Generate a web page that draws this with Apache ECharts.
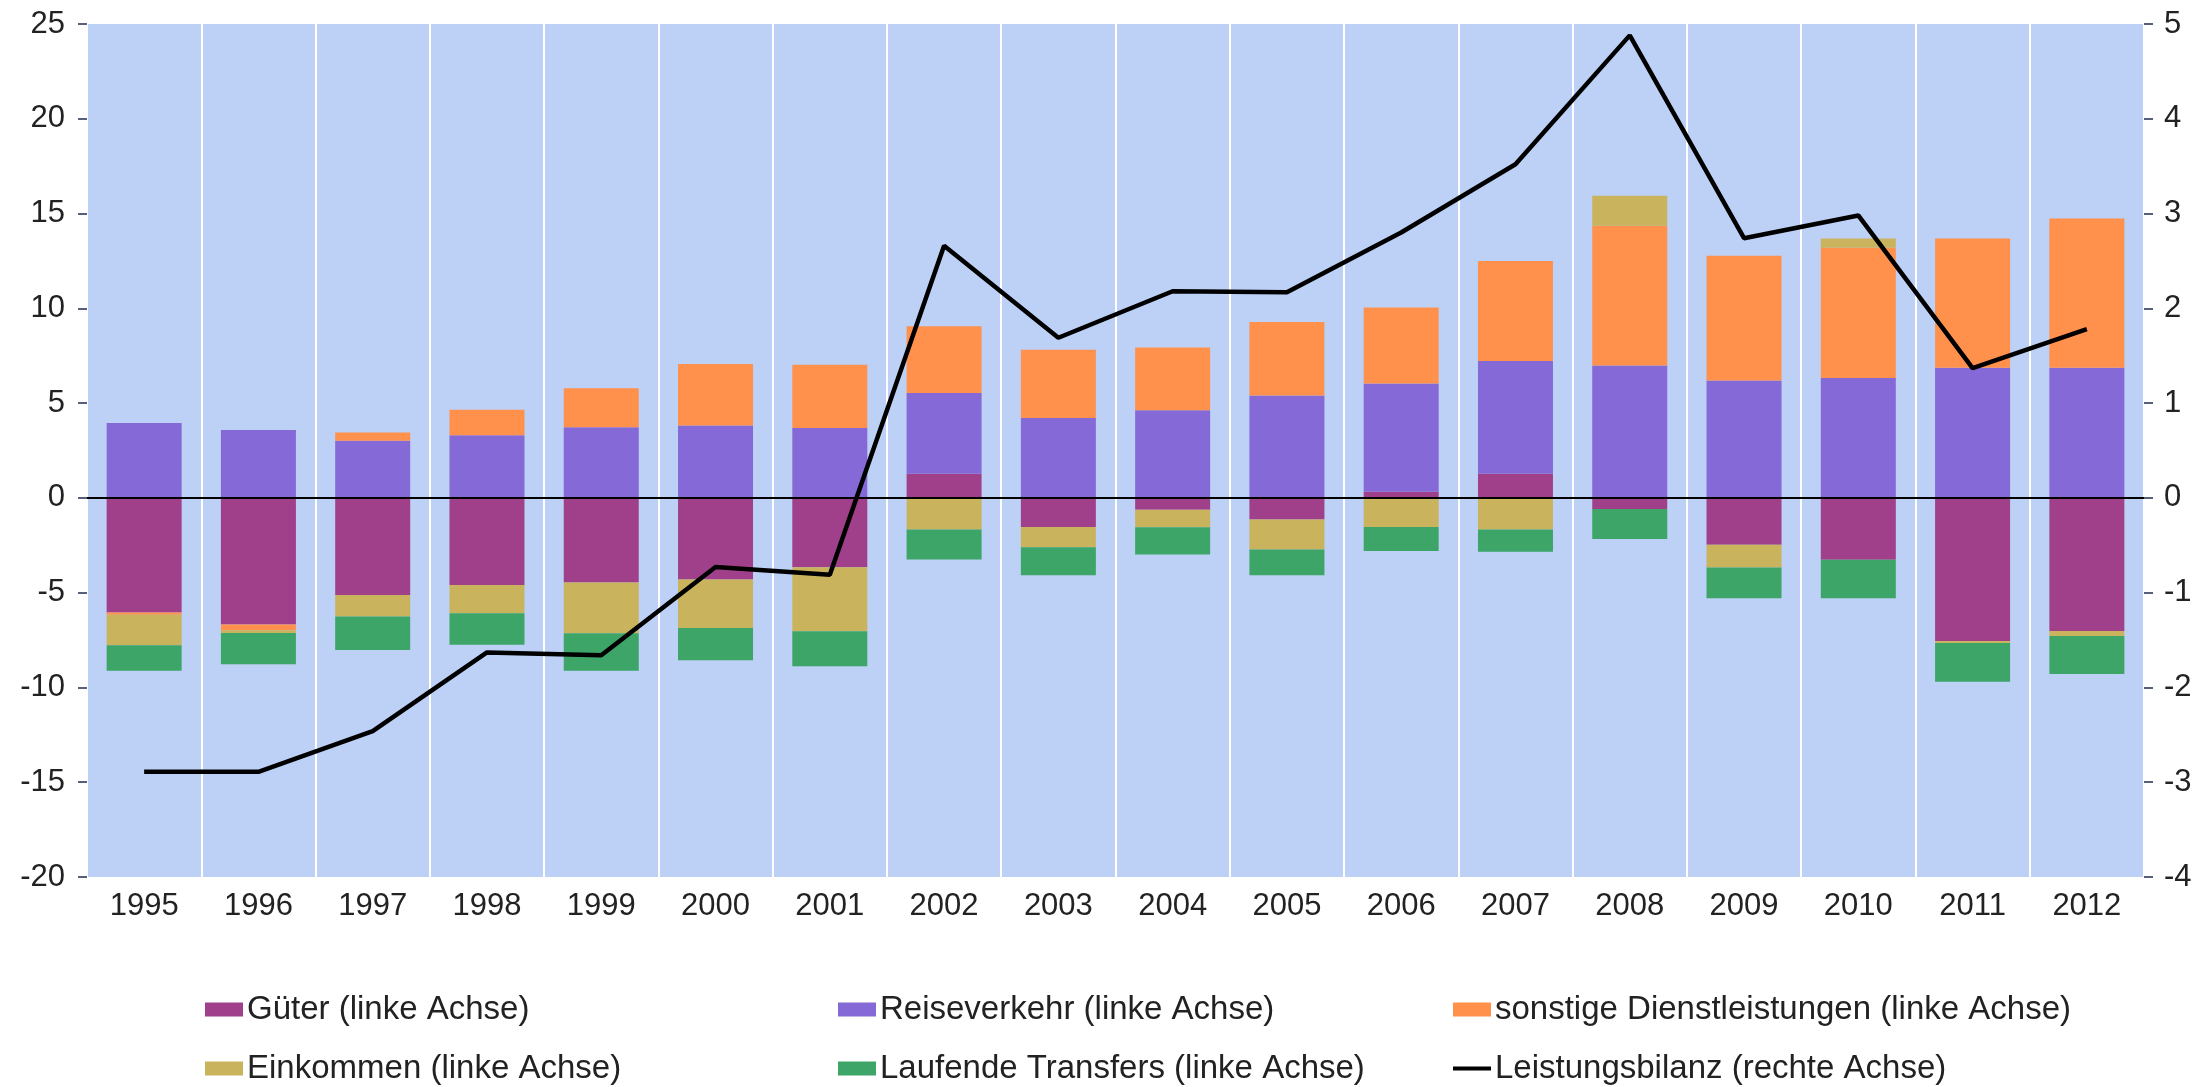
<!DOCTYPE html>
<html><head><meta charset="utf-8">
<script src="https://cdn.jsdelivr.net/npm/echarts@6/dist/echarts.min.js"></script>
<style>html,body{margin:0;padding:0;background:#fff}#c{width:2206px;height:1087px}</style>
</head><body><div id="c"></div>
<script>
const years = ['1995','1996','1997','1998','1999','2000','2001','2002','2003','2004','2005','2006','2007','2008','2009','2010','2011','2012'];
const gueter       = [-6.05,-6.68,-5.12,-4.60,-4.47,-4.30,-3.66, 1.27,-1.53,-0.62,-1.14, 0.33, 1.27,-0.58,-2.47,-3.26,-7.55,-7.02];
const reiseverkehr = [ 3.95, 3.58, 3.01, 3.31, 3.72, 3.82, 3.69, 4.27, 4.22, 4.62, 5.40, 5.70, 5.95, 6.98, 6.19, 6.33, 6.86, 6.86];
const sonstige     = [-0.12,-0.30, 0.44, 1.34, 2.07, 3.24, 3.34, 3.51, 3.60, 3.32, 3.88, 4.02, 5.28, 7.38, 6.58, 6.87, 6.83, 7.88];
const einkommen    = [-1.60,-0.15,-1.14,-1.49,-2.67,-2.56,-3.37,-1.67,-1.07,-0.93,-1.58,-1.53,-1.67, 1.58,-1.20, 0.49,-0.10,-0.26];
const transfers    = [-1.35,-1.65,-1.76,-1.66,-1.98,-1.71,-1.85,-1.58,-1.48,-1.44,-1.36,-1.27,-1.17,-1.59,-1.62,-2.03,-2.05,-2.01];
const leistungsbilanz = [-2.89,-2.89,-2.46,-1.63,-1.66,-0.73,-0.81, 2.66, 1.69, 2.18, 2.17, 2.80, 3.52, 4.88, 2.74, 2.98, 1.37, 1.78];

const names = ['Güter (linke Achse)','Reiseverkehr (linke Achse)','sonstige Dienstleistungen (linke Achse)','Einkommen (linke Achse)','Laufende Transfers (linke Achse)','Leistungsbilanz (rechte Achse)'];
const colors = ['#A0408A','#8569D6','#FF914D','#C9B35C','#3DA567','#000000'];
const FONT = "'Liberation Sans', Arial, sans-serif";
const txt = {color:'#222', fontFamily: FONT, fontSize: 31};

function bar(i, data){
  return {name:names[i], type:'bar', stack:'s', data:data, barWidth:75,
          itemStyle:{color:colors[i]}, z:2};
}
const legendPos = [[205,993],[838,993],[1453,993],[205,1052],[838,1052],[1453,1052]];
const legends = names.map((n,i)=>({
  data:[n], left:legendPos[i][0], top:legendPos[i][1], orient:'horizontal', padding:0,
  itemWidth:38, itemHeight: i===5 ? 4 : 14, itemGap:4, icon: 'rect',
  textStyle:Object.assign({}, txt, {fontSize:33, padding:[0,0,0,-1]}),
  selectedMode:false
}));

const chart = echarts.init(document.getElementById('c'), null, {renderer:'canvas'});
chart.setOption({
  animation:false,
  backgroundColor:'#fff',
  grid:{left:87, right:62, top:24, bottom:210, show:true, backgroundColor:'#BDD0F5', borderWidth:0},
  legend: legends,
  xAxis:{type:'category', data:years, boundaryGap:true,
    axisLine:{show:false}, axisTick:{show:false},
    axisLabel:Object.assign({margin:14}, txt),
    splitLine:{show:true, interval:0, lineStyle:{color:'#ffffff', width:2}}},
  yAxis:[
    {type:'value', min:-20, max:25, interval:5, position:'left',
     axisLine:{show:false}, axisTick:{show:true, length:9, inside:false, lineStyle:{color:'#1f2d50', width:1.5}},
     axisLabel:Object.assign({margin:22}, txt), splitLine:{show:false}},
    {type:'value', min:-4, max:5, interval:1, position:'right',
     axisLine:{show:false}, axisTick:{show:true, length:9, lineStyle:{color:'#1f2d50', width:1.5}},
     axisLabel:Object.assign({margin:20}, txt), splitLine:{show:false}}
  ],
  series:[
    bar(0, gueter), bar(1, reiseverkehr), bar(2, sonstige), bar(3, einkommen), bar(4, transfers),
    {name:names[5], type:'line', yAxisIndex:1, data:leistungsbilanz, symbol:'none', z:5,
     itemStyle:{color:'#000'}, lineStyle:{color:'#000', width:4.5},
     markLine:{silent:true, symbol:'none', label:{show:false}, lineStyle:{color:'#000', width:2, type:'solid'},
       data:[{yAxis:0}]}}
  ]
});
</script></body></html>
